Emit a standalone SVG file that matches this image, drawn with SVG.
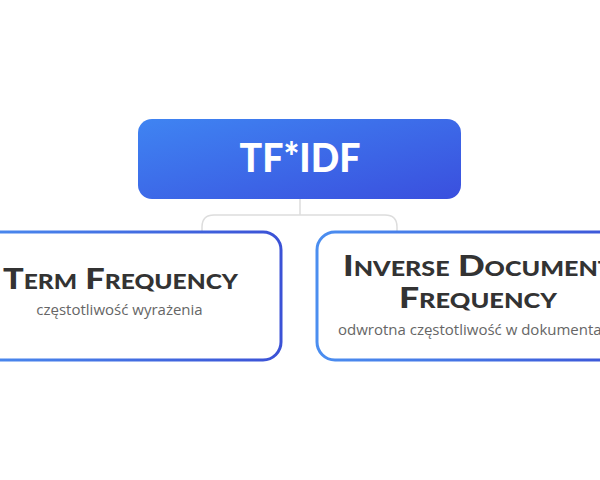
<svg xmlns="http://www.w3.org/2000/svg" width="600" height="480" viewBox="0 0 600 480">
  <defs>
    <linearGradient id="fillGrad" x1="0" y1="0" x2="1" y2="1">
      <stop offset="0" stop-color="#3f84f2"/>
      <stop offset="1" stop-color="#3a4fde"/>
    </linearGradient>
    <linearGradient id="strokeGrad" x1="0" y1="0" x2="1" y2="0">
      <stop offset="0" stop-color="#4b8ef0"/>
      <stop offset="1" stop-color="#3b52d6"/>
    </linearGradient>
    <style>
      .title { font-family: "Lato", "Liberation Sans", sans-serif; font-weight: 900; fill: #333333; font-size: 28px; font-variant: small-caps; text-anchor: middle; }
      .sub { font-family: "Open Sans", "Liberation Sans", sans-serif; fill: #666666; font-size: 15px; text-anchor: middle; }
      .child { fill: #ffffff; stroke: url(#strokeGrad); stroke-width: 3; }
      .conn { fill: none; stroke: #dddddd; stroke-width: 1.5; }
    </style>
  </defs>
  <rect width="600" height="480" fill="#ffffff"/>
  <g id="connectors">
    <path class="conn" d="M300 199 V215"/>
    <path class="conn" d="M202 232 V227 Q202 215 214 215 H385 Q397 215 397 227 V232"/>
  </g>
  <g id="root">
    <rect x="138" y="119" width="323" height="80" rx="14" fill="url(#fillGrad)"/>
    <text x="300" y="172" font-family="Lato, 'Liberation Sans', sans-serif" font-weight="900" font-size="40" fill="#ffffff" text-anchor="middle" textLength="121" lengthAdjust="spacingAndGlyphs">TF*IDF</text>
  </g>
  <g id="term-frequency">
    <rect class="child" x="-42" y="232" width="323" height="128" rx="18"/>
    <text class="title" x="120.5" y="289" textLength="235" lengthAdjust="spacingAndGlyphs">Term Frequency</text>
    <text class="sub" x="119.5" y="315">częstotliwość wyrażenia</text>
  </g>
  <g id="inverse-document-frequency">
    <rect class="child" x="317" y="232" width="323" height="128" rx="18"/>
    <text class="title" x="478" y="276" textLength="270" lengthAdjust="spacingAndGlyphs">Inverse Document</text>
    <text class="title" x="478" y="308" textLength="158" lengthAdjust="spacingAndGlyphs">Frequency</text>
    <text class="sub" x="478" y="335">odwrotna częstotliwość w dokumentach</text>
  </g>
</svg>
